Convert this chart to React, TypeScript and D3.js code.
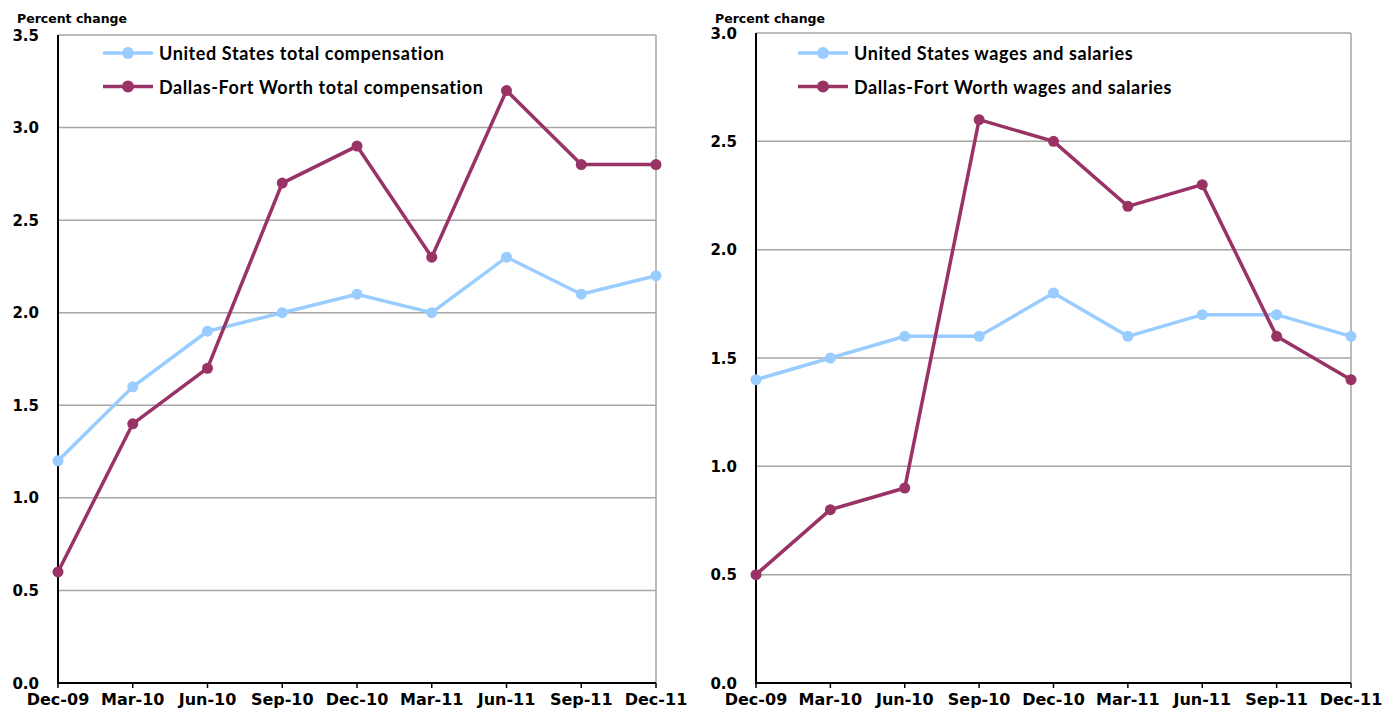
import * as d3 from 'd3';

const quarters = ['Dec-09', 'Mar-10', 'Jun-10', 'Sep-10', 'Dec-10', 'Mar-11', 'Jun-11', 'Sep-11', 'Dec-11'];

const usTotalComp = [1.2, 1.6, 1.9, 2.0, 2.1, 2.0, 2.3, 2.1, 2.2];
const dfwTotalComp = [0.6, 1.4, 1.7, 2.7, 2.9, 2.3, 3.2, 2.8, 2.8];

const usWages = [1.4, 1.5, 1.6, 1.6, 1.8, 1.6, 1.7, 1.7, 1.6];
const dfwWages = [0.5, 0.8, 0.9, 2.6, 2.5, 2.2, 2.3, 1.6, 1.4];

const leftTicks = [0, 0.5, 1.0, 1.5, 2.0, 2.5, 3.0, 3.5];
const rightTicks = [0, 0.5, 1.0, 1.5, 2.0, 2.5, 3.0];

const US_COLOR = '#99ccff';
const DFW_COLOR = '#993366';
const TICK_FONT = "'DejaVu Sans', sans-serif";
const LEGEND_FONT = "Lato, 'Open Sans', sans-serif";

interface PanelProps {
  x0: number;
  x1: number;
  yTop: number;
  yBottom: number;
  ticks: number[];
  us: number[];
  dfw: number[];
  usLabel: string;
  dfwLabel: string;
  legendX: number;
}

function Panel({ x0, x1, yTop, yBottom, ticks, us, dfw, usLabel, dfwLabel, legendX }: PanelProps) {
  const x = d3.scalePoint<string>().domain(quarters).range([x0, x1]);
  const y = d3
    .scaleLinear()
    .domain([0, d3.max(ticks) ?? 3])
    .range([yBottom, yTop]);
  const line = d3
    .line<number>()
    .x((_, i) => x(quarters[i]) ?? 0)
    .y((d) => y(d));

  const series = [
    { values: us, color: US_COLOR, label: usLabel },
    { values: dfw, color: DFW_COLOR, label: dfwLabel },
  ];

  return (
    <g>
      {/* gridlines + right border */}
      {ticks
        .filter((t) => t > 0)
        .map((t) => (
          <line key={t} x1={x0} x2={x1} y1={y(t)} y2={y(t)} stroke="#a6a6a6" strokeWidth={1.5} />
        ))}
      <line x1={x1} x2={x1} y1={yTop} y2={yBottom} stroke="#a6a6a6" strokeWidth={1.5} />
      {/* axes */}
      <line x1={x0} x2={x0} y1={yTop} y2={yBottom + 1} stroke="#000" strokeWidth={2} />
      <line x1={x0} x2={x1} y1={yBottom} y2={yBottom} stroke="#000" strokeWidth={2} />
      {quarters.map((q) => (
        <line key={q} x1={x(q)} x2={x(q)} y1={yBottom} y2={yBottom + 5} stroke="#000" strokeWidth={1.5} />
      ))}
      {ticks.map((t) => (
        <text
          key={t}
          x={x0 - 19}
          y={y(t) + 5.5}
          textAnchor="end"
          fontFamily={TICK_FONT}
          fontWeight="bold"
          fontSize={15}
        >
          {t.toFixed(1)}
        </text>
      ))}
      {quarters.map((q) => (
        <text
          key={q}
          x={x(q)}
          y={yBottom + 22}
          textAnchor="middle"
          fontFamily={TICK_FONT}
          fontWeight="bold"
          fontSize={16}
        >
          {q}
        </text>
      ))}
      <text x={x0 - 41} y={22.5} fontFamily={TICK_FONT} fontWeight="bold" fontSize={12.5}>
        Percent change
      </text>
      {/* series */}
      {series.map((s) => (
        <g key={s.label}>
          <path d={line(s.values) ?? ''} fill="none" stroke={s.color} strokeWidth={3.5} />
          {s.values.map((v, i) => (
            <circle key={i} cx={x(quarters[i])} cy={y(v)} r={5.5} fill={s.color} />
          ))}
        </g>
      ))}
      {/* legend */}
      {series.map((s, i) => (
        <g key={`lg-${s.label}`} transform={`translate(${legendX}, ${53 + i * 33.5})`}>
          <line x1={0} x2={50} y1={0} y2={0} stroke={s.color} strokeWidth={3.5} />
          <circle cx={25} cy={0} r={6} fill={s.color} />
          <text
            x={56}
            y={7}
            fontFamily={LEGEND_FONT}
            fontWeight="bold"
            fontSize={18}
            letterSpacing={0.6}
          >
            {s.label}
          </text>
        </g>
      ))}
    </g>
  );
}

export default function App() {
  return (
    <svg
      width={1396}
      height={710}
      style={{ position: 'absolute', left: 0, top: 0, background: '#fff' }}
    >
      <Panel
        x0={58}
        x1={656}
        yTop={35}
        yBottom={683}
        ticks={leftTicks}
        us={usTotalComp}
        dfw={dfwTotalComp}
        usLabel="United States total compensation"
        dfwLabel="Dallas-Fort Worth total compensation"
        legendX={103}
      />
      <Panel
        x0={756}
        x1={1351}
        yTop={33}
        yBottom={683}
        ticks={rightTicks}
        us={usWages}
        dfw={dfwWages}
        usLabel="United States wages and salaries"
        dfwLabel="Dallas-Fort Worth wages and salaries"
        legendX={798}
      />
    </svg>
  );
}
